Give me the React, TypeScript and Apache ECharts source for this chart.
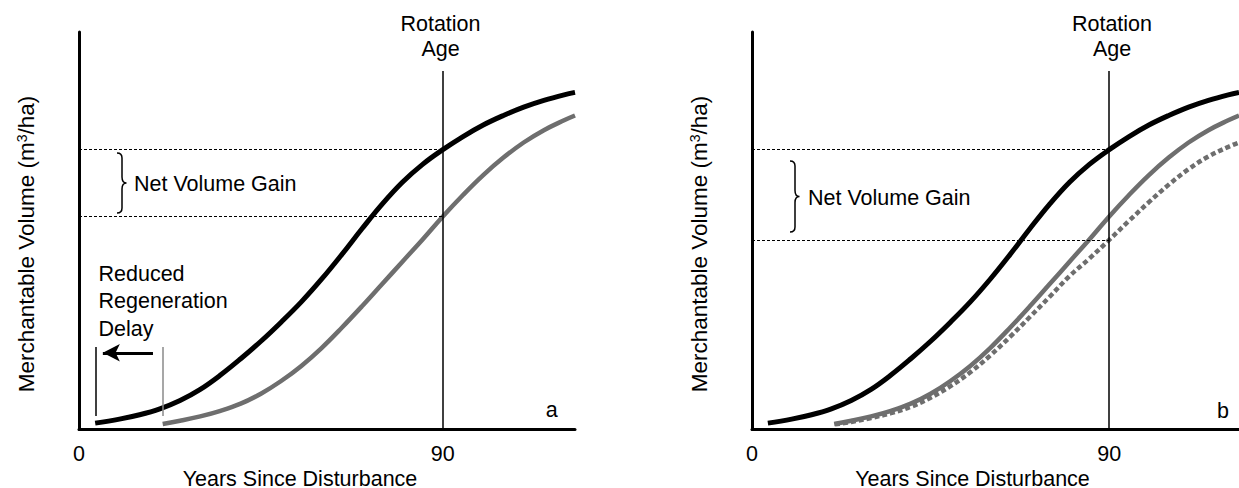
import React, { useEffect, useRef } from 'react';
import * as echarts from 'echarts';

const FONT = '"Liberation Sans", Arial, Helvetica, sans-serif';
const FS = 21.5;

// x-axis tick labels (years)
const xTickLabels = [0, 90];
const rotationAge = 90;
const xMax = 122.7;

// Black curve (reduced regeneration delay)
const blackYears = [4, 10, 15, 20, 25, 30, 35, 40, 45, 50, 55, 60, 65, 70, 75, 80, 85, 90, 95, 100, 105, 110, 115, 120, 122.7];
const blackVolume = [1.6, 2.6, 3.7, 5.2, 7.3, 10.1, 13.7, 17.8, 22.2, 27.0, 32.1, 37.8, 44.0, 50.5, 56.7, 62.2, 66.7, 70.4, 73.7, 76.6, 79.0, 81.1, 82.8, 84.2, 84.8];

// Grey solid curve (original delay)
const greyYears = [20.7, 25, 30, 35, 40, 45, 50, 55, 60, 65, 70, 75, 80, 85, 90, 95, 100, 105, 110, 115, 120, 122.7];
const greyVolume = [1.4, 2.2, 3.3, 4.7, 6.5, 9.0, 12.2, 16.0, 20.5, 25.6, 31.0, 36.6, 42.2, 47.8, 53.6, 59.0, 64.0, 68.4, 72.2, 75.3, 77.8, 79.0];

// Grey dotted curve (panel b only)
const dottedYears = [20.9, 25, 30, 35, 40, 45, 50, 55, 60, 65, 70, 75, 80, 85, 90, 95, 100, 105, 110, 115, 120, 122.7];
const dottedVolume = [1.3, 1.9, 2.9, 4.1, 5.7, 8.0, 10.9, 14.4, 18.6, 23.3, 28.3, 33.4, 38.6, 43.0, 47.7, 52.5, 57.2, 61.6, 65.5, 68.7, 71.1, 72.2];

// annotation values
const upperGainLevel = 70.4;
const lowerGainLevelA = 53.6;
const lowerGainLevelB = 47.7;
const rotationLineTop = 90.2;
const delayStartBlack = 4.1;
const delayStartGrey = 20.6;
const delayLineRange = [3.4, 20.75];
const arrowLevel = 19.3;
const arrowFromTo = [18.3, 5.9];

function zip(xs: number[], ys: number[]) {
  return xs.map((x, i) => [x, ys[i]]);
}

function bracePath(h: number) {
  const m = h / 2;
  return `M0,0 C3.5,0 5,1.5 5,5 L5,${m - 6} C5,${m - 2} 6,${m} 9.5,${m} C6,${m} 5,${m + 2} 5,${m + 6} L5,${h - 5} C5,${h - 1.5} 3.5,${h} 0,${h}`;
}

echarts.graphic.registerShape('braceA', echarts.graphic.extendPath(bracePath(60), {}) as any);
echarts.graphic.registerShape('braceB', echarts.graphic.extendPath(bracePath(71), {}) as any);

const DASH = { type: [3, 2] as any, width: 1, color: '#000' };

function markLines(lowerLevel: number, withDelay: boolean) {
  const data: any[] = [
    [
      { coord: [rotationAge, 0] },
      { coord: [rotationAge, rotationLineTop] },
    ],
    [
      { coord: [0, upperGainLevel], lineStyle: DASH },
      { coord: [rotationAge, upperGainLevel], lineStyle: DASH },
    ],
    [
      { coord: [0, lowerLevel], lineStyle: DASH },
      { coord: [rotationAge, lowerLevel], lineStyle: DASH },
    ],
  ];
  if (withDelay) {
    data.push(
      [
        { coord: [delayStartBlack, delayLineRange[0]] },
        { coord: [delayStartBlack, delayLineRange[1]] },
      ],
      [
        { coord: [delayStartGrey, delayLineRange[0]], lineStyle: { color: '#8a8a8a', width: 1.5 } },
        { coord: [delayStartGrey, delayLineRange[1]], lineStyle: { color: '#8a8a8a', width: 1.5 } },
      ],
      [
        { coord: [arrowFromTo[0], arrowLevel], lineStyle: { width: 3, color: '#000' } },
        {
          coord: [arrowFromTo[1], arrowLevel],
          lineStyle: { width: 3, color: '#000' },
          symbol: 'arrow',
          symbolSize: [13, 17],
        },
      ]
    );
  }
  return {
    silent: true,
    symbol: ['none', 'none'],
    label: { show: false },
    emphasis: { disabled: true },
    lineStyle: { color: '#000', width: 1.5, type: 'solid' },
    data,
  };
}

function xAxis(gridIndex: number) {
  return {
    gridIndex,
    type: 'value',
    min: 0,
    max: xMax,
    interval: 90,
    axisLine: { show: true, lineStyle: { color: '#000', width: 3 } },
    axisTick: { show: false },
    splitLine: { show: false },
    axisLabel: {
      color: '#000',
      fontSize: FS,
      fontFamily: FONT,
      margin: 13,
      showMaxLabel: false,
      formatter: (v: number) => (xTickLabels.includes(v) ? String(v) : ''),
    },
  };
}

function yAxis(gridIndex: number) {
  return {
    gridIndex,
    type: 'value',
    min: 0,
    max: 100,
    axisLine: { show: true, lineStyle: { color: '#000', width: 3 } },
    axisTick: { show: false },
    splitLine: { show: false },
    axisLabel: { show: false },
  };
}

function textEl(text: string, x: number, y: number, align = 'center', extra: any = {}) {
  return {
    type: 'text',
    x,
    y,
    silent: true,
    style: {
      text,
      fill: '#000',
      fontSize: FS,
      fontFamily: FONT,
      align,
      verticalAlign: 'middle',
      textAlign: align,
      textVerticalAlign: 'middle',
      ...extra,
    },
  };
}

function yTitle(x: number) {
  return {
    type: 'text',
    x,
    y: 244,
    rotation: Math.PI / 2,
    silent: true,
    style: {
      text: 'Merchantable Volume (m{sup|3}/ha)',
      fill: '#000',
      fontSize: 22.5,
      fontFamily: FONT,
      align: 'center',
      verticalAlign: 'middle',
      rich: {
        sup: { fontSize: 14, fontFamily: FONT, fill: '#000', verticalAlign: 'top', padding: [0, 0, 4, 0] },
      },
    },
  };
}

export default function App() {
  const ref = useRef<HTMLDivElement>(null);

  useEffect(() => {
    if (!ref.current) return;
    const chart = echarts.init(ref.current, undefined, { renderer: 'svg' });
    const black = zip(blackYears, blackVolume);
    const grey = zip(greyYears, greyVolume);
    const dotted = zip(dottedYears, dottedVolume);
    const lineBase = { type: 'line', smooth: 0.4, showSymbol: false, symbol: 'none', silent: true };

    chart.setOption({
      animation: false,
      backgroundColor: '#fff',
      grid: [
        { left: 79, top: 32, width: 496, height: 397.5 },
        { left: 752, top: 32, width: 496, height: 397.5 },
      ],
      xAxis: [xAxis(0), xAxis(1)],
      yAxis: [yAxis(0), yAxis(1)],
      series: [
        { ...lineBase, name: 'A reduced', xAxisIndex: 0, yAxisIndex: 0, data: black, lineStyle: { color: '#000', width: 5 }, z: 3, markLine: markLines(lowerGainLevelA, true) },
        { ...lineBase, name: 'A original', xAxisIndex: 0, yAxisIndex: 0, data: grey, lineStyle: { color: '#6e6e6e', width: 4.5 }, z: 2 },
        { ...lineBase, name: 'B reduced', xAxisIndex: 1, yAxisIndex: 1, data: black, lineStyle: { color: '#000', width: 5 }, z: 3, markLine: markLines(lowerGainLevelB, false) },
        { ...lineBase, name: 'B original', xAxisIndex: 1, yAxisIndex: 1, data: grey, lineStyle: { color: '#6e6e6e', width: 4.5 }, z: 2 },
        { ...lineBase, name: 'B dotted', xAxisIndex: 1, yAxisIndex: 1, data: dotted, lineStyle: { color: '#6e6e6e', width: 4.5, type: [5, 3] }, z: 2 },
      ],
      graphic: [
        textEl('Rotation', 440.5, 23.8),
        textEl('Age', 440.5, 49.2),
        textEl('Rotation', 1112, 23.8),
        textEl('Age', 1112, 49.2),
        textEl('Net Volume Gain', 134, 184, 'left'),
        textEl('Net Volume Gain', 808, 197.5, 'left'),
        textEl('Reduced\nRegeneration\nDelay', 98.5, 301, 'left', { lineHeight: 27.5 }),
        textEl('a', 551.7, 410),
        textEl('b', 1223, 411),
        textEl('Years Since Disturbance', 300, 479),
        textEl('Years Since Disturbance', 972.5, 479),
        yTitle(26.5),
        yTitle(699.5),
        { type: 'braceA', x: 117, y: 153, silent: true, style: { fill: 'none', stroke: '#000', lineWidth: 1.5 } },
        { type: 'braceB', x: 790, y: 161, silent: true, style: { fill: 'none', stroke: '#000', lineWidth: 1.5 } },
      ],
    });
    return () => chart.dispose();
  }, []);

  return <div ref={ref} style={{ position: 'absolute', left: 0, top: 0, width: 1239, height: 488 }} />;
}
